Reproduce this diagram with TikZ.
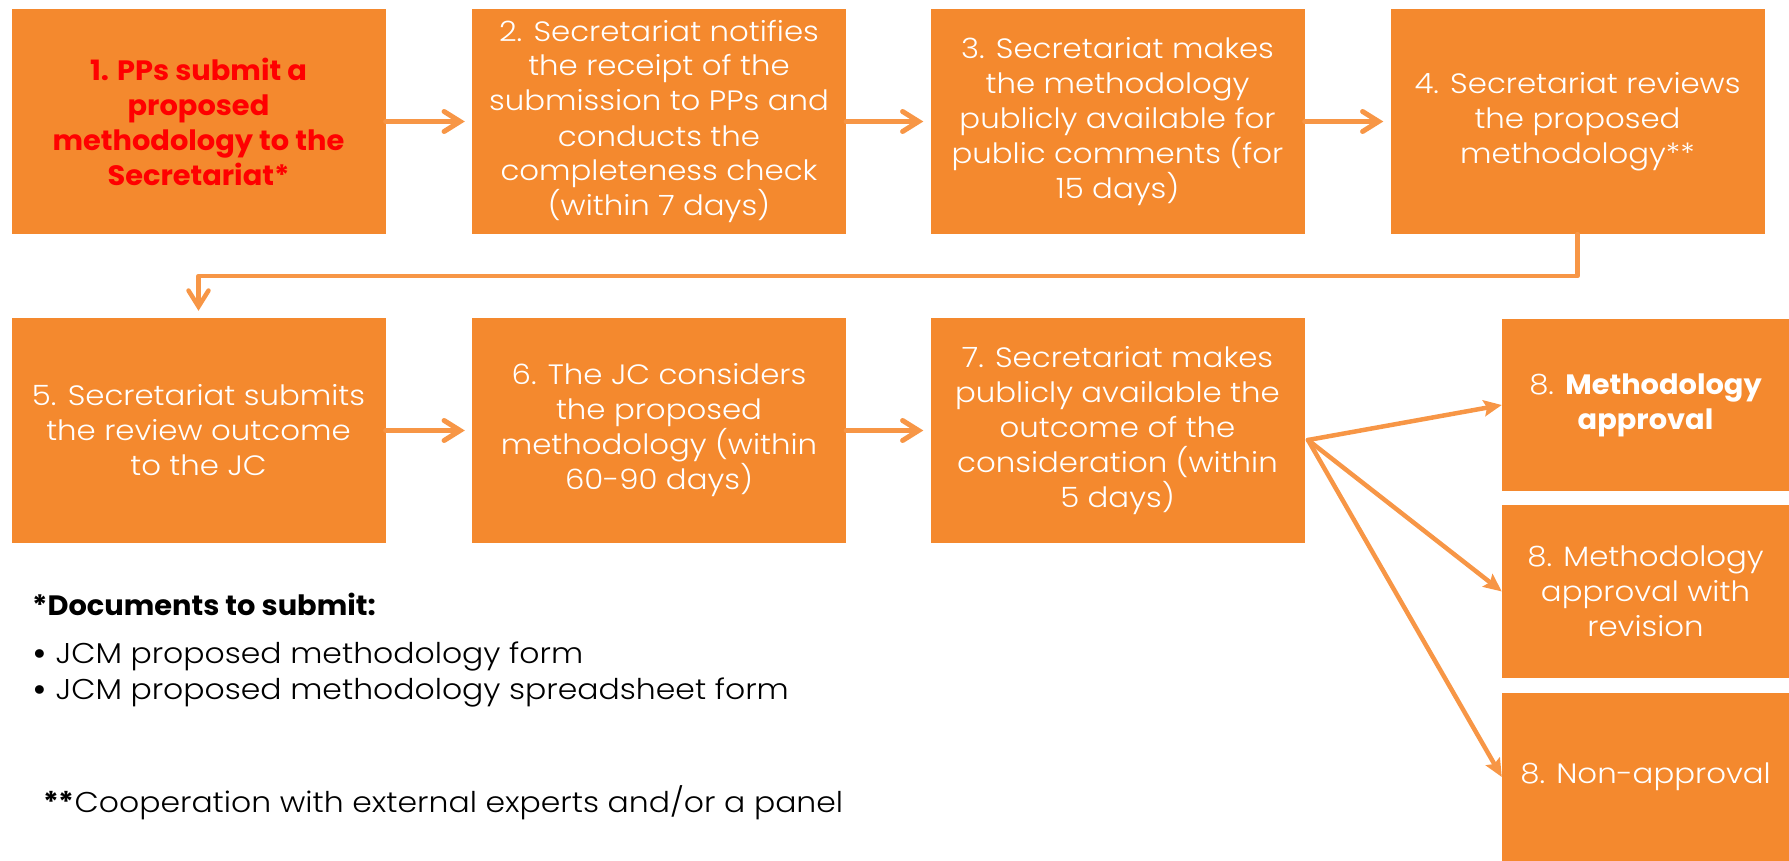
\documentclass[tikz,border=0pt]{standalone}
\usepackage{fontspec}
\setmainfont{Poppins}[UprightFont={* Light}, BoldFont={* Bold},
  UprightFeatures={FakeStretch=1.1}, BoldFeatures={FakeStretch=1.03}]
\usetikzlibrary{arrows.meta}
\definecolor{boxor}{RGB}{244,137,46}
\definecolor{arror}{RGB}{247,150,70}
\definecolor{redtxt}{RGB}{255,0,0}
\newcommand{\bigbul}{\textbf{•}}
\begin{document}
\begin{tikzpicture}[x=1pt,y=-1pt,
  box/.style={fill=boxor, draw=none, inner sep=0pt, text=white, align=center,
    font=\fontsize{28}{35}\selectfont},
  toprow/.style={box, minimum width=374pt, minimum height=225pt},
  endbox/.style={box, minimum width=287pt},
  flow/.style={draw=arror, line width=5pt, line cap=round, line join=round,
    -{Straight Barb[length=16pt,width=20pt,line cap=round]}, shorten >=7pt},
  fan/.style={draw=arror, line width=4.5pt, line cap=round,
    -{Stealth[length=18pt,width=16pt,inset=3pt]}},
  note/.style={inner sep=0pt, anchor=base west, font=\fontsize{28.6}{36}\selectfont}
]
\useasboundingbox (0,0) rectangle (1789,861);

% row 1
\node[toprow, text=redtxt, font=\fontsize{28}{35}\selectfont\bfseries] (b1) at (198.5,121.5)
  {1. PPs submit a\\proposed\\methodology to the\\Secretariat*};
\node[toprow] (b2) at (659,121.5)
  {2. Secretariat notifies\\the receipt of the\\submission to PPs and\\conducts the\\completeness check\\(within 7 days)};
\node[toprow] (b3) at (1117.5,121.5)
  {3. Secretariat makes\\the methodology\\publicly available for\\public comments (for\\15 days)};
\node[toprow] (b4) at (1577.5,121.5)
  {4. Secretariat reviews\\the proposed\\methodology**};

% row 2
\node[toprow] (b5) at (198.5,430.5)
  {5. Secretariat submits\\the review outcome\\to the JC};
\node[toprow] (b6) at (659,430.5)
  {6. The JC considers\\the proposed\\methodology (within\\60-90 days)};
\node[toprow] (b7) at (1117.5,430.5)
  {7. Secretariat makes\\publicly available the\\outcome of the\\consideration (within\\5 days)};

% outcomes
\node[endbox, minimum height=172pt] (b8a) at (1645.5,405)
  {8. \textbf{Methodology}\\\textbf{approval}};
\node[endbox, minimum height=173pt] (b8b) at (1645.5,591.5)
  {8. Methodology\\approval with\\revision};
\node[endbox, minimum height=168pt] (b8c) at (1645.5,777)
  {8. Non-approval};

% connectors
\draw[flow] (b1.east) -- (b2.west);
\draw[flow] (b2.east) -- (b3.west);
\draw[flow] (b3.east) -- (b4.west);
\coordinate (cy) at (0,276);
\draw[flow, line width=4.5pt] (b4.south) -- (b4.south |- cy) -| (b5.north);
\draw[flow] (b5.east) -- (b6.west);
\draw[flow] (b6.east) -- (b7.west);
\coordinate (fork) at (1308,440);
\draw[fan] (fork) -- (b8a.west);
\draw[fan] (fork) -- (b8b.west);
\draw[fan] (fork) -- (b8c.west);

% notes
\node[note, font=\fontsize{28}{36}\selectfont\bfseries] (docs) at (32,615) {*Documents to submit:};
\node[note] (bul1) at (32,663) {\bigbul\ JCM proposed methodology form};
\node[note] (bul2) at (32,699) {\bigbul\ JCM proposed methodology spreadsheet form};
\node[note] (coop) at (43,812) {\textbf{**}Cooperation with external experts and/or a panel};
\end{tikzpicture}
\end{document}
